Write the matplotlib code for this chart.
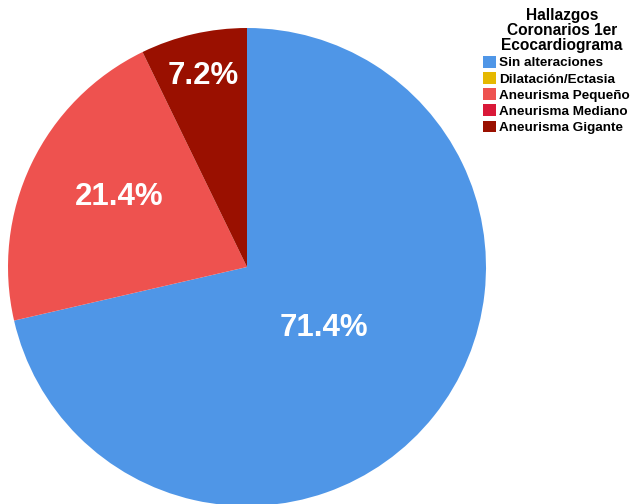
import matplotlib
matplotlib.use("Agg")
import matplotlib.pyplot as plt
from matplotlib.patches import Patch
import numpy as np

plt.rcParams['font.family'] = ['Liberation Sans', 'DejaVu Sans']

categories = ["Sin alteraciones", "Dilatación/Ectasia", "Aneurisma Pequeño",
              "Aneurisma Mediano", "Aneurisma Gigante"]
values = [71.4, 0.0, 21.4, 0.0, 7.2]
colors = ["#4F96E7", "#E5B800", "#EE524F", "#D91838", "#9A1000"]
legend_title = "Hallazgos\nCoronarios 1er\nEcocardiograma"

# distance of each percentage label from the centre (fraction of radius)
label_dist = [0.41, 0.6, 0.61, 0.8, 0.82]
# small angular nudge of each label (degrees)
label_turn = [0, 0, -3, 0, 0]

W, H = 634, 504
fig = plt.figure(figsize=(W / 100, H / 100), dpi=100)

cx, cy, r = 247, 267, 239
ax = fig.add_axes([(cx - r) / W, (H - cy - r) / H, 2 * r / W, 2 * r / H])
wedges, _ = ax.pie(values, colors=colors, startangle=90, counterclock=False,
                   wedgeprops=dict(linewidth=0))
ax.set_xlim(-1, 1)
ax.set_ylim(-1, 1)
ax.set_aspect('equal')
ax.axis('off')

for w, v, d, t in zip(wedges, values, label_dist, label_turn):
    if v <= 0:
        continue
    ang = np.deg2rad((w.theta1 + w.theta2) / 2 + t)
    ax.text(d * np.cos(ang), d * np.sin(ang), f"{v:.1f}%", color="white",
            fontsize=22.5, fontweight="bold", ha="center", va="center")

fig.text(562 / W, 1 - 8 / H, legend_title, ha="center", va="top",
         fontsize=11.2, fontweight="bold", linespacing=1.0)

handles = [Patch(facecolor=c, edgecolor="none") for c in colors]
fig.legend(handles, categories, loc="upper left",
           bbox_to_anchor=(483 / W, 1 - 56 / H), frameon=False,
           prop=dict(size=9.7, weight="bold"), handlelength=0.95,
           handleheight=0.95, handletextpad=0.25, labelspacing=0.2,
           borderpad=0, borderaxespad=0)

fig.savefig("out.png", dpi=100)
